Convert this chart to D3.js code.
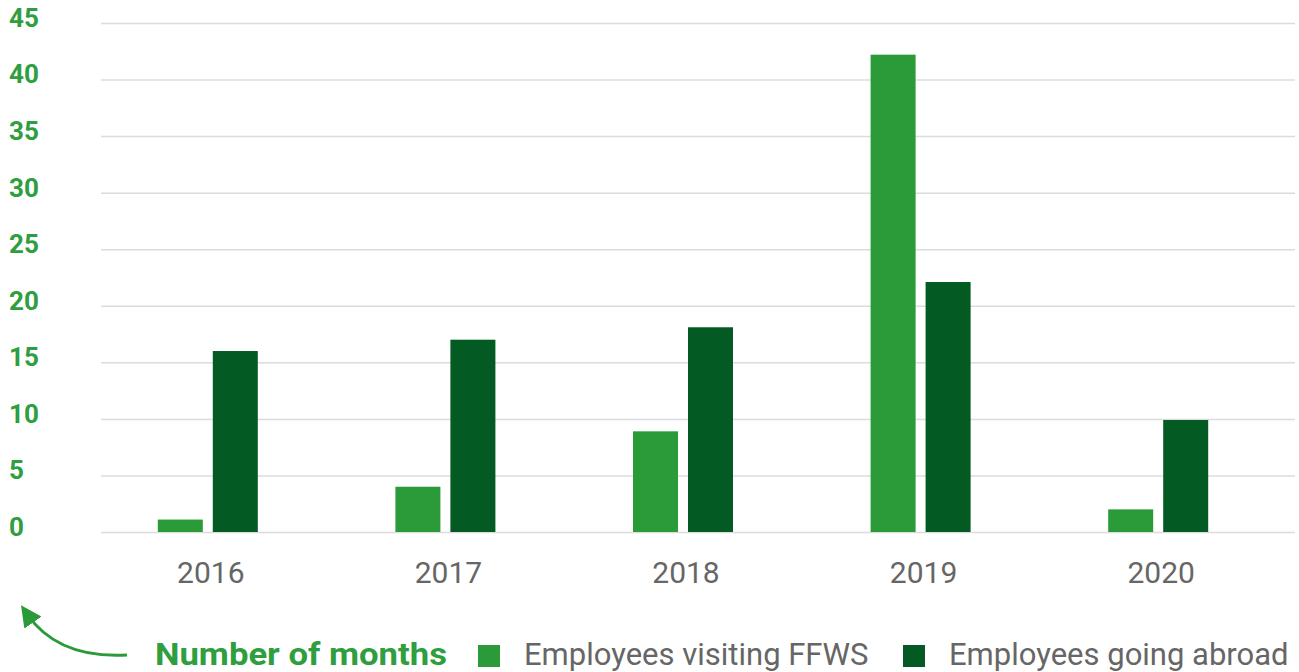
<!DOCTYPE html>
<meta charset="UTF-8">
<style>
    body { margin: 0; background: #fff; }
    .grid line { stroke: #dcdcdc; stroke-width: 1.5px; }
    .grid path { display: none; }
    .ytick text { fill: #2e9e3e; font-weight: bold; font-size: 26px; font-family: Roboto, sans-serif; }
    .xtick text { fill: #666; font-size: 30px; font-family: Roboto, sans-serif; }
    .legend text { font-family: Roboto, sans-serif; font-size: 31px; }
</style>
<body>
<div id="chart"></div>
<script src="https://d3js.org/d3.v7.min.js"></script>
<script>

// data
var years = ["2016", "2017", "2018", "2019", "2020"];
var visiting = [1.1, 4, 8.9, 42.2, 2];
var abroad = [16, 17, 18.1, 22.1, 9.9];
var yTicks = [0, 5, 10, 15, 20, 25, 30, 35, 40, 45];
var seriesNames = ["Employees visiting FFWS", "Employees going abroad"];
var seriesColors = ["#2b9b3a", "#035a23"];

var width = 1299, height = 672;

var svg = d3.select("#chart").append("svg")
    .attr("width", width)
    .attr("height", height);

// scales
var x = d3.scaleBand().domain(years).range([89, 1277]);
var y = d3.scaleLinear().domain([0, 45]).range([532, 23]);

// gridlines
svg.append("g")
    .attr("class", "grid")
    .attr("transform", "translate(1295,0)")
    .call(d3.axisLeft(y).tickValues(yTicks).tickSize(1194).tickFormat(""));

// y tick labels
svg.append("g")
    .attr("class", "ytick")
    .selectAll("text")
    .data(yTicks)
    .enter().append("text")
    .attr("x", 9)
    .attr("y", function(d) { return y(d); })
    .attr("dy", "0.15em")
    .text(function(d) { return d; });

// bars
var barW = 45, gap = 10;
var bars = svg.append("g");
bars.selectAll(".b1")
    .data(visiting)
    .enter().append("rect")
    .attr("x", function(d, i) { return x(years[i]) + x.bandwidth() / 2 - gap / 2 - barW; })
    .attr("y", function(d) { return y(d); })
    .attr("width", barW)
    .attr("height", function(d) { return y(0) - y(d); })
    .attr("fill", seriesColors[0]);
bars.selectAll(".b2")
    .data(abroad)
    .enter().append("rect")
    .attr("x", function(d, i) { return x(years[i]) + x.bandwidth() / 2 + gap / 2; })
    .attr("y", function(d) { return y(d); })
    .attr("width", barW)
    .attr("height", function(d) { return y(0) - y(d); })
    .attr("fill", seriesColors[1]);

// x labels
svg.append("g")
    .attr("class", "xtick")
    .selectAll("text")
    .data(years)
    .enter().append("text")
    .attr("x", function(d) { return x(d) + x.bandwidth() / 2 + 3; })
    .attr("y", 583)
    .attr("text-anchor", "middle")
    .text(function(d) { return d; });

// legend
var legend = svg.append("g").attr("class", "legend");
legend.append("text")
    .attr("x", 155)
    .attr("y", 665)
    .attr("fill", "#2e9e3e")
    .attr("font-weight", "bold")
    .attr("textLength", 292)
    .attr("lengthAdjust", "spacingAndGlyphs")
    .text("Number of months");

var legendX = [478, 903];
seriesNames.forEach(function(name, i) {
    legend.append("rect")
        .attr("x", legendX[i])
        .attr("y", 645)
        .attr("width", 22)
        .attr("height", 22)
        .attr("fill", seriesColors[i]);
    legend.append("text")
        .attr("x", legendX[i] + 46)
        .attr("y", 665)
        .attr("fill", "#666")
        .text(name);
});

// curved arrow pointing to the y axis
svg.append("defs").append("marker")
    .attr("id", "head")
    .attr("viewBox", "0 0 10 10")
    .attr("refX", 5).attr("refY", 5)
    .attr("markerWidth", 7).attr("markerHeight", 7)
    .attr("orient", "auto")
  .append("path")
    .attr("d", "M0,0L10,5L0,10z")
    .attr("fill", "#2b9b3a");

svg.append("path")
    .attr("d", "M127,655 C75,658 45,640 27,614")
    .attr("fill", "none")
    .attr("stroke", "#2b9b3a")
    .attr("stroke-width", 3)
    .attr("marker-end", "url(#head)");

</script>
</body>
